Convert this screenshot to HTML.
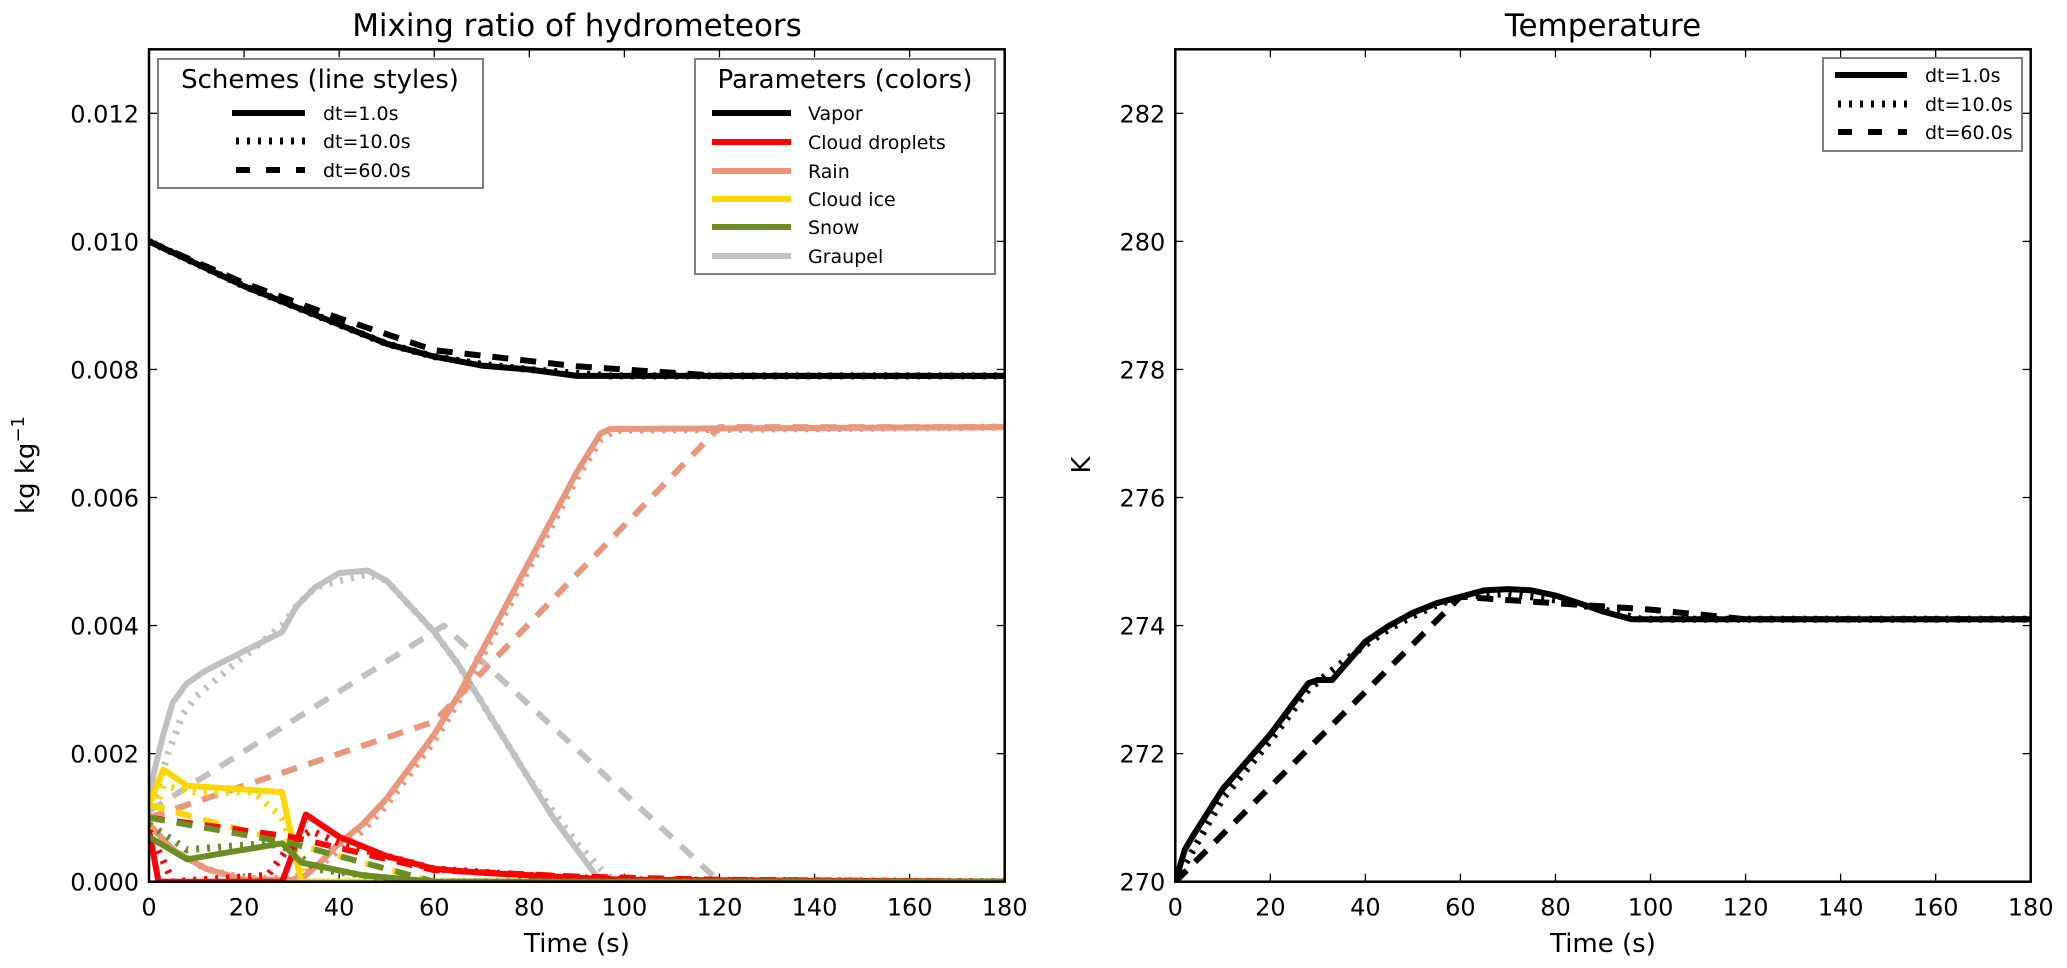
<!DOCTYPE html>
<html><head><meta charset="utf-8"><style>
body{margin:0;background:#fff}
svg{display:block;font-family:"DejaVu Sans","Liberation Sans",sans-serif}
</style></head><body>
<svg id="fig" width="2067" height="968"></svg>
<script>
// Left chart data (time s, mixing ratio kg/kg)
const vaporSolid=[[0,0.0100],[10,0.00965],[20,0.0093],[30,0.0090],[40,0.0087],[50,0.0084],[60,0.0082],[70,0.00806],[80,0.0080],[90,0.0079],[95,0.0079],[180,0.0079]];
const vaporDot=[[0,0.0100],[10,0.00965],[20,0.0093],[30,0.0090],[40,0.0087],[50,0.0084],[60,0.0082],[70,0.00808],[80,0.0080],[97,0.0079],[180,0.0079]];
const vaporDash=[[0,0.0100],[20,0.00935],[40,0.0088],[60,0.0083],[90,0.00805],[120,0.0079],[180,0.0079]];
const rainSolid=[[0,0.0009],[5,0.0005],[12,0.0002],[20,0.00003],[30,0.00003],[33,0.0001],[36,0.0003],[40,0.0006],[45,0.0009],[50,0.0013],[55,0.0018],[60,0.0023],[65,0.0029],[70,0.0036],[75,0.0043],[80,0.0050],[85,0.0057],[90,0.0064],[95,0.0070],[97,0.00707],[180,0.0071]];
const rainDot=[[0,0.0009],[5,0.0005],[12,0.0002],[20,0.00005],[30,0.00005],[35,0.0002],[40,0.0005],[45,0.0008],[50,0.0012],[55,0.0017],[60,0.0022],[65,0.0028],[70,0.0035],[75,0.0042],[80,0.0049],[85,0.0056],[90,0.0063],[95,0.0069],[98,0.00705],[180,0.0071]];
const rainDash=[[0,0.0010],[60,0.0025],[120,0.0071],[180,0.0071]];
const graupelSolid=[[0,0.0012],[1,0.0017],[3,0.0023],[5,0.0028],[8,0.0031],[12,0.0033],[20,0.0036],[28,0.0039],[31,0.0043],[35,0.0046],[40,0.00482],[46,0.00486],[50,0.0047],[55,0.0043],[60,0.0039],[65,0.0034],[70,0.0028],[75,0.0022],[80,0.0016],[85,0.0010],[90,0.0005],[94,0.0001],[96,0.0000],[180,0]];
const graupelDot=[[0,0.0010],[2,0.0015],[4,0.0020],[7,0.0026],[10,0.0029],[18,0.0034],[28,0.0040],[31,0.0043],[35,0.0046],[40,0.0047],[46,0.0048],[50,0.0047],[55,0.0043],[60,0.0039],[65,0.0034],[70,0.0028],[75,0.0022],[80,0.0016],[85,0.0011],[90,0.0006],[95,0.0002],[98,0.0000],[180,0]];
const graupelDash=[[0,0.0011],[62,0.0040],[120,0.0000],[180,0]];
const iceSolid=[[0,0.0012],[3,0.00175],[8,0.0015],[28,0.0014],[32,0.0000],[180,0]];
const iceDot=[[0,0.0008],[3,0.0015],[10,0.0014],[22,0.0014],[28,0.0010],[33,0.0000],[180,0]];
const iceDash=[[0,0.0012],[30,0.0006],[60,0.0000],[180,0]];
const dropSolid=[[0,0.0008],[2,0.0000],[28,0.0000],[30,0.0004],[33,0.00105],[36,0.0009],[40,0.0007],[45,0.00055],[50,0.0004],[55,0.0003],[60,0.0002],[70,0.00014],[80,0.0001],[90,0.00006],[100,0.00003],[180,0]];
const dropDot=[[0,0.0008],[5,0.0000],[25,0.0001],[30,0.0006],[34,0.0008],[40,0.0006],[50,0.0004],[60,0.0002],[80,0.0001],[100,0.00003],[180,0]];
const dropDash=[[0,0.0010],[30,0.0007],[60,0.00018],[90,0.00008],[120,0.00003],[180,0]];
const snowSolid=[[0,0.0007],[8,0.00035],[28,0.0006],[32,0.0003],[45,0.0001],[60,0.0000],[180,0]];
const snowDot=[[0,0.0009],[8,0.0005],[25,0.0006],[30,0.0005],[35,0.0002],[50,0.00005],[60,0],[180,0]];
const snowDash=[[0,0.0010],[30,0.0006],[60,0.0000],[180,0]];
// Right chart data (time s, temperature K)
const tempSolid=[[0,270],[2,270.5],[4,270.75],[10,271.45],[20,272.3],[28,273.1],[30,273.15],[33,273.15],[40,273.75],[45,274.0],[50,274.2],[55,274.35],[60,274.45],[65,274.55],[70,274.57],[75,274.55],[80,274.47],[85,274.35],[90,274.22],[96,274.1],[180,274.1]];
const tempDot=[[0,270],[3,270.4],[10,271.3],[20,272.2],[28,273.0],[33,273.3],[40,273.7],[45,273.95],[50,274.15],[55,274.32],[60,274.45],[70,274.5],[80,274.4],[90,274.25],[98,274.1],[180,274.1]];
const tempDash=[[0,270],[60,274.45],[100,274.25],[120,274.1],[180,274.1]];
const xTicks=[0,20,40,60,80,100,120,140,160,180];
const yTicksL=[0,0.002,0.004,0.006,0.008,0.010,0.012];
const yTicksR=[270,272,274,276,278,280,282];

const NS="http://www.w3.org/2000/svg";
const svg=document.getElementById('fig');
function mk(tag,attrs,parent,text){const e=document.createElementNS(NS,tag);for(const k in attrs)e.setAttribute(k,attrs[k]);if(text!==undefined)e.textContent=text;(parent||svg).appendChild(e);return e;}
const L={x0:149,x1:1004.7,y0:881.7,y1:49.3,xmin:0,xmax:180,ymin:0,ymax:0.013};
const R={x0:1175.3,x1:2030.7,y0:881.7,y1:49.3,xmin:0,xmax:180,ymin:270,ymax:283};
function sx(a,v){return a.x0+(v-a.xmin)/(a.xmax-a.xmin)*(a.x1-a.x0);}
function sy(a,v){return a.y0-(v-a.ymin)/(a.ymax-a.ymin)*(a.y0-a.y1);}
const DASH={solid:null,dot:"3 8",dash:"16 12"};
function series(a,data,color,style,name){
  const p=mk('path',{d:data.map((d,i)=>(i?'L':'M')+sx(a,d[0]).toFixed(1)+' '+sy(a,d[1]).toFixed(1)).join(''),fill:'none',stroke:color,'stroke-width':style==='dot'?7:6,'stroke-linejoin':'round'});
  if(DASH[style])p.setAttribute('stroke-dasharray',DASH[style]);
  
  
}
function axes(a,yt,fmt,pre){
  const clip=mk('clipPath',{id:pre+'clip'});mk('rect',{x:a.x0,y:a.y1,width:a.x1-a.x0,height:a.y0-a.y1},clip);
  xTicks.forEach(v=>{const x=sx(a,v);
    mk('line',{x1:x,x2:x,y1:a.y0,y2:a.y0-8,stroke:'#000','stroke-width':1.3});
    mk('line',{x1:x,x2:x,y1:a.y1,y2:a.y1+8,stroke:'#000','stroke-width':1.3});
    const t=mk('text',{x:x,y:a.y0+34,'font-size':24,'text-anchor':'middle'},null,v);
    
    });
  yt.forEach(v=>{const y=sy(a,v);
    mk('line',{x1:a.x0,x2:a.x0+8,y1:y,y2:y,stroke:'#000','stroke-width':1.3});
    mk('line',{x1:a.x1,x2:a.x1-8,y1:y,y2:y,stroke:'#000','stroke-width':1.3});
    const t=mk('text',{x:a.x0-10,y:y+9,'font-size':24,'text-anchor':'end'},null,fmt(v));
    
    });
}
axes(L,yTicksL,v=>v.toFixed(3),'L');
axes(R,yTicksR,v=>String(v),'R');
const gL=mk('g',{'clip-path':'url(#Lclip)'});
const gR=mk('g',{'clip-path':'url(#Rclip)'});
function S(g,a,data,color,style,name){series(a,data,color,style,name);g.appendChild(svg.lastChild);}
const C={vap:'#000',drop:'#ff0000',rain:'#e9967a',ice:'#ffd700',snow:'#6b8e23',grau:'#c0c0c0'};
[['grau',graupelSolid,graupelDot,graupelDash],['rain',rainSolid,rainDot,rainDash],['vap',vaporSolid,vaporDot,vaporDash],['ice',iceSolid,iceDot,iceDash],['drop',dropSolid,dropDot,dropDash],['snow',snowSolid,snowDot,snowDash]].forEach(s=>{
  S(gL,L,s[3],C[s[0]],'dash',s[0]+'-dt60-line');
  S(gL,L,s[2],C[s[0]],'dot',s[0]+'-dt10-line');
  S(gL,L,s[1],C[s[0]],'solid',s[0]+'-dt1-line');
});
S(gR,R,tempDash,'#000','dash','temp-dt60-line');
S(gR,R,tempDot,'#000','dot','temp-dt10-line');
S(gR,R,tempSolid,'#000','solid','temp-dt1-line');
[L,R].forEach((a,i)=>{const f=mk('rect',{x:a.x0,y:a.y1,width:a.x1-a.x0,height:a.y0-a.y1,fill:'none',stroke:'#000','stroke-width':2.5});
  
  });
</script>
<svg width="2067" height="968" style="position:absolute;left:0;top:0">
<text x="577" y="36" font-size="31" text-anchor="middle">Mixing ratio of hydrometeors</text>
<text x="1603" y="36" font-size="31" text-anchor="middle">Temperature</text>
<text x="577" y="952" font-size="26" text-anchor="middle">Time (s)</text>
<text x="1603" y="952" font-size="26" text-anchor="middle">Time (s)</text>
<text transform="translate(34,465) rotate(-90)" font-size="26" text-anchor="middle">kg kg<tspan dy="-10" font-size="18">−1</tspan></text>
<text transform="translate(1090,465) rotate(-90)" font-size="26" text-anchor="middle">K</text>
<g>
<rect x="158" y="59" width="325" height="129" fill="#fff" stroke="#808080" stroke-width="2"/>
<text x="320" y="88" font-size="26" text-anchor="middle">Schemes (line styles)</text>
<line x1="232" y1="113" x2="305" y2="113" stroke="#000" stroke-width="6"/>
<line x1="236" y1="141" x2="305" y2="141" stroke="#000" stroke-width="7" stroke-dasharray="3 8"/>
<line x1="236" y1="170" x2="305" y2="170" stroke="#000" stroke-width="6" stroke-dasharray="14 16"/>
<text x="323" y="120" font-size="19">dt=1.0s</text>
<text x="323" y="148" font-size="19">dt=10.0s</text>
<text x="323" y="177" font-size="19">dt=60.0s</text>
</g>
<g>
<rect x="695" y="59" width="300" height="215" fill="#fff" stroke="#808080" stroke-width="2"/>
<text x="845" y="88" font-size="26" text-anchor="middle">Parameters (colors)</text>
<line x1="712" y1="113" x2="791" y2="113" stroke="#000" stroke-width="6"/>
<line x1="712" y1="142" x2="791" y2="142" stroke="#ff0000" stroke-width="6"/>
<line x1="712" y1="171" x2="791" y2="171" stroke="#e9967a" stroke-width="6"/>
<line x1="712" y1="199" x2="791" y2="199" stroke="#ffd700" stroke-width="6"/>
<line x1="712" y1="227" x2="791" y2="227" stroke="#6b8e23" stroke-width="6"/>
<line x1="712" y1="256" x2="791" y2="256" stroke="#c0c0c0" stroke-width="6"/>
<text x="808" y="120" font-size="19">Vapor</text>
<text x="808" y="149" font-size="19">Cloud droplets</text>
<text x="808" y="178" font-size="19">Rain</text>
<text x="808" y="206" font-size="19">Cloud ice</text>
<text x="808" y="234" font-size="19">Snow</text>
<text x="808" y="263" font-size="19">Graupel</text>
</g>
<g>
<rect x="1823" y="58" width="199" height="93" fill="#fff" stroke="#808080" stroke-width="2"/>
<line x1="1835" y1="75" x2="1907" y2="75" stroke="#000" stroke-width="6"/>
<line x1="1838" y1="104" x2="1907" y2="104" stroke="#000" stroke-width="7" stroke-dasharray="3 8"/>
<line x1="1838" y1="132" x2="1907" y2="132" stroke="#000" stroke-width="6" stroke-dasharray="14 16"/>
<text x="1925" y="82" font-size="19">dt=1.0s</text>
<text x="1925" y="111" font-size="19">dt=10.0s</text>
<text x="1925" y="139" font-size="19">dt=60.0s</text>
</g>
</svg>
</body></html>
